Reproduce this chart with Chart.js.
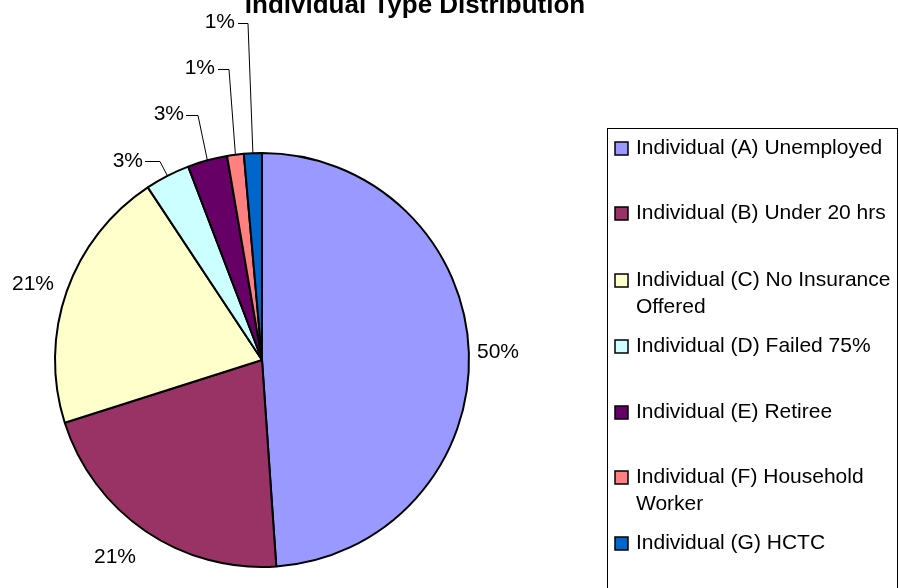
<!DOCTYPE html>
<html>
<head>
<meta charset="utf-8">
<script src="https://cdn.jsdelivr.net/npm/chart.js@4/dist/chart.umd.min.js"></script>
<style>
html,body{margin:0;padding:0;background:#fff;}
#c{display:block;}
</style>
</head>
<body>
<canvas id="c" width="899" height="588"></canvas>
<script>
const categories = [
  "Individual (A) Unemployed",
  "Individual (B) Under 20 hrs",
  "Individual (C) No Insurance Offered",
  "Individual (D) Failed 75%",
  "Individual (E) Retiree",
  "Individual (F) Household Worker",
  "Individual (G) HCTC"
];
const legendLines = [
  ["Individual (A) Unemployed"],
  ["Individual (B) Under 20 hrs"],
  ["Individual (C) No Insurance", "Offered"],
  ["Individual (D) Failed 75%"],
  ["Individual (E) Retiree"],
  ["Individual (F) Household", "Worker"],
  ["Individual (G) HCTC"]
];
const shares = [48.9, 21.2, 20.6, 3.5, 3.1, 1.3, 1.4];
const pctLabels = ["50%", "21%", "21%", "3%", "3%", "1%", "1%"];
const colors = ["#9999FF", "#993366", "#FFFFCC", "#CCFFFF", "#660066", "#FF8080", "#0066CC"];
const titleText = "Individual Type Distribution";

const FONT = '"Liberation Sans", Arial, sans-serif';

const labelCfg = [
  {x: 477, y: 352, align: 'left', leader: null},
  {x: 115, y: 557, align: 'center', leader: null},
  {x: 33,  y: 284, align: 'center', leader: null},
  {x: 143, y: 161, align: 'right', leader: [[145,161],[160,161]]},
  {x: 184, y: 114, align: 'right', leader: [[186,115],[198,115]]},
  {x: 215, y: 68,  align: 'right', leader: [[218,69],[229,69]]},
  {x: 235, y: 22,  align: 'right', leader: [[238,23],[248,23]]}
];

const overlay = {
  id: 'overlay',
  afterDraw(chart) {
    const ctx = chart.ctx;
    const meta = chart.getDatasetMeta(0);
    ctx.save();
    ctx.fillStyle = '#000';
    ctx.font = 'bold 26px ' + FONT;
    ctx.textAlign = 'center';
    ctx.textBaseline = 'alphabetic';
    ctx.fillText(titleText, 415, 13);

    ctx.font = '21px ' + FONT;
    ctx.textBaseline = 'middle';
    meta.data.forEach((arc, i) => {
      const cfg = labelCfg[i];
      ctx.fillStyle = '#000';
      ctx.textAlign = cfg.align;
      ctx.fillText(pctLabels[i], cfg.x, cfg.y);
      if (cfg.leader) {
        const mid = (arc.startAngle + arc.endAngle) / 2;
        const ex = arc.x + Math.cos(mid) * arc.outerRadius;
        const ey = arc.y + Math.sin(mid) * arc.outerRadius;
        ctx.strokeStyle = '#000';
        ctx.lineWidth = 1;
        ctx.beginPath();
        ctx.moveTo(cfg.leader[0][0], cfg.leader[0][1] + 0.5);
        ctx.lineTo(cfg.leader[1][0], cfg.leader[1][1] + 0.5);
        ctx.lineTo(ex, ey);
        ctx.stroke();
      }
    });

    ctx.strokeStyle = '#000';
    ctx.lineWidth = 1;
    ctx.strokeRect(607.5, 128.5, 290, 470);
    const rowY = [148, 213, 280, 346, 412, 477, 543];
    ctx.textAlign = 'left';
    ctx.font = '21px ' + FONT;
    legendLines.forEach((lines, i) => {
      const y = rowY[i];
      ctx.fillStyle = colors[i];
      ctx.fillRect(615, y - 6, 13, 13);
      ctx.strokeStyle = '#000';
      ctx.lineWidth = 1.5;
      ctx.strokeRect(615, y - 6, 13, 13);
      ctx.fillStyle = '#000';
      lines.forEach((t, j) => {
        ctx.fillText(t, 636, y + j * 27);
      });
    });
    ctx.restore();
  }
};

new Chart(document.getElementById('c'), {
  type: 'pie',
  data: {
    labels: categories,
    datasets: [{
      data: shares,
      backgroundColor: colors,
      borderColor: '#000',
      borderWidth: 2
    }]
  },
  options: {
    responsive: false,
    animation: false,
    layout: {padding: {left: 54, top: 152, right: 429, bottom: 20}},
    plugins: {legend: {display: false}, tooltip: {enabled: false}, title: {display: false}}
  },
  plugins: [overlay]
});
</script>
</body>
</html>
